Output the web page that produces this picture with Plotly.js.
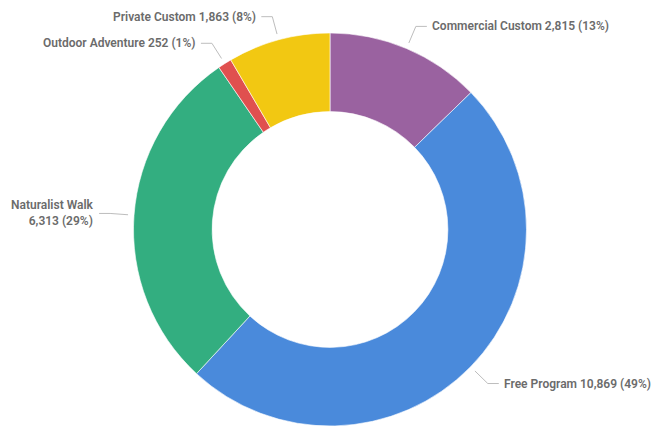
<!DOCTYPE html>
<html>
<head>
<meta charset="utf-8">
<script src="https://cdn.plot.ly/plotly-3.0.1.min.js"></script>
<style>html,body{margin:0;padding:0;background:#fff;}#chart{width:666px;height:426px;}</style>
</head>
<body>
<div id="chart"></div>
<script>
const labels = ['Commercial Custom', 'Free Program', 'Naturalist Walk', 'Outdoor Adventure', 'Private Custom'];
const values = [2815, 10869, 6313, 252, 1863];
const colors = ['#9A62A0', '#4A8ADB', '#33AE80', '#E0504F', '#F2C812'];

const W = 666, H = 426;
const domX = [0, 660 / W], domY = [0, 393 / H];
const cx = W * (domX[0] + domX[1]) / 2;
const cy = H - H * (domY[0] + domY[1]) / 2;
const R = Math.min(W * (domX[1] - domX[0]), H * (domY[1] - domY[0])) / 2;

const total = values.reduce((a, b) => a + b, 0);
const shapes = [], annotations = [];
const px = x => x / W, py = y => 1 - y / H;
const fontSpec = {family: 'Roboto, "DejaVu Sans", sans-serif', size: 12, color: '#6b6b6b', weight: 600};
let cum = 0;
values.forEach((v, i) => {
  const mid = (cum + v / 2) / total * 2 * Math.PI;
  cum += v;
  const sx = Math.sin(mid), cyv = -Math.cos(mid);
  const x0 = cx + (R + 6) * sx, y0 = cy + (R + 6) * cyv;
  const x1 = cx + (R + 24) * sx, y1 = cy + (R + 24) * cyv;
  const right = sx >= 0;
  const x2 = x1 + (right ? 11 : -11);
  shapes.push({type: 'path', xref: 'paper', yref: 'paper',
    path: `M ${px(x0)} ${py(y0)} L ${px(x1)} ${py(y1)} L ${px(x2)} ${py(y1)}`,
    line: {color: '#bdbdbd', width: 1}});
  const pct = Math.round(v / total * 100);
  const valTxt = v.toLocaleString('en-US') + ' (' + pct + '%)';
  let txt = labels[i] + ' ' + valTxt;
  const tx = x2 + (right ? 3 : -3);
  const estW = txt.length * 5.8;
  if ((right && tx + estW > W - 4) || (!right && tx - estW < 4)) {
    txt = labels[i] + '<br>' + valTxt;
  }
  annotations.push({xref: 'paper', yref: 'paper', x: px(tx), y: py(y1),
    xanchor: right ? 'left' : 'right', yanchor: 'middle', align: right ? 'left' : 'right',
    showarrow: false, text: txt, font: fontSpec});
});

const data = [{
  type: 'pie', labels: labels, values: values, hole: 0.6, sort: false,
  direction: 'clockwise', rotation: 0, textinfo: 'none', hoverinfo: 'label+value+percent',
  marker: {colors: colors, line: {color: '#ffffff', width: 0.6}},
  domain: {x: domX, y: domY}, showlegend: false
}];
const layout = {width: W, height: H, margin: {l: 0, r: 0, t: 0, b: 0},
  paper_bgcolor: '#fff', plot_bgcolor: '#fff', showlegend: false,
  shapes: shapes, annotations: annotations};
Plotly.newPlot('chart', data, layout, {displayModeBar: false, staticPlot: true});
</script>
</body>
</html>
